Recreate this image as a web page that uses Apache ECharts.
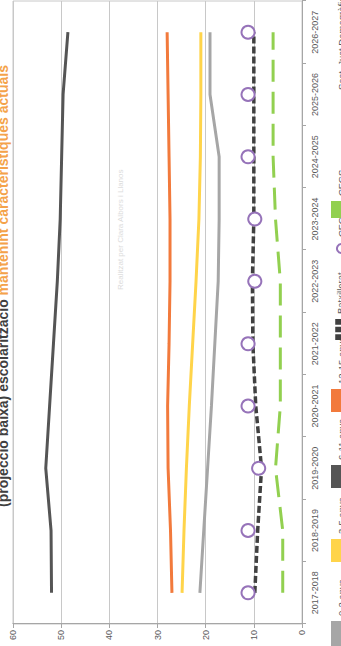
<!DOCTYPE html>
<html><head><meta charset="utf-8">
<script src="https://cdn.jsdelivr.net/npm/echarts@6/dist/echarts.min.js"></script>
<style>
html,body{margin:0;padding:0;width:341px;height:646px;overflow:hidden;background:#fff}
#chart{position:absolute;left:0;top:0;width:646px;height:341px;transform-origin:0 0;transform:translate(0,646px) rotate(-90deg);}
</style></head><body><div id="chart"></div>
<script>
const categories = ['2017-2018','2018-2019','2019-2020','2020-2021','2021-2022','2022-2023','2023-2024','2024-2025','2025-2026','2026-2027'];
const anys0_2   = [21.2, 20.4, 19.6, 18.8, 18.1, 17.4, 17.2, 17.2, 19.1, 19.1];
const anys3_5   = [24.9, 24.5, 24.0, 23.4, 22.7, 22.0, 21.4, 21.1, 21.0, 21.0];
const anys6_11  = [52.0, 52.1, 53.2, 52.4, 51.6, 50.8, 50.2, 49.9, 49.6, 48.6];
const anys12_15 = [27.0, 27.3, 27.8, 27.9, 27.6, 27.4, 27.4, 27.6, 27.8, 28.0];
const batxillerat = [9.8, 9.2, 8.4, 9.6, 10.2, 10.3, 10.0, 10.0, 10.0, 10.0];
const cfgm = [11.2, 11.2, 9.0, 11.2, 11.2, 9.8, 9.8, 11.2, 11.2, 11.2];
const cfgs = [4.0, 4.0, 5.5, 4.5, 4.5, 4.5, 5.5, 6.0, 6.0, 6.0];
const sostDemo = [];
const seriesNames = ['0-2 anys','3-5 anys','6-11 anys','12-15 anys','Batxillerat','CFGM','CFGS','Sost. Just Demogràfica'];
const valueTicks = {min: 0, max: 60, interval: 10};

const FONT = '"Liberation Sans", Arial, sans-serif';
const chart = echarts.init(document.getElementById('chart'), null, {renderer: 'svg', width: 646, height: 341});

function solid(name, data, color) {
  return {name, type: 'line', data, symbol: 'none', smooth: false,
    lineStyle: {color, width: 3}, itemStyle: {color}};
}

// legend layout: left position of each entry's icon, icon shape and icon width
const legendLeft = [0, 84, 158, 234, 306, 392, 428, 528];
const legendTop = [331, 331, 331, 331, 335, 336, 331, 331];
const legendIcon = ['rect','rect','rect','rect','path://M0,0h6v10h-6zM8,0h6v10h-6zM16,0h6v10h-6z','circle','rect','rect'];
const legendIconW = [25, 23, 23, 23, 21, 9, 17, 23];
const legendIconH = [20, 20, 20, 20, 12, 9, 20, 20];
const legends = seriesNames.map((n, i) => ({
  left: legendLeft[i], top: legendTop[i], itemWidth: legendIconW[i], itemHeight: legendIconH[i],
  itemGap: 0, padding: 0,
  textStyle: {fontSize: 9.5, color: '#595959', fontFamily: FONT, padding: i === 5 ? [0,0,0,2] : 0},
  data: [{name: n, icon: legendIcon[i]}]
}));

chart.setOption({
  animation: false,
  textStyle: {fontFamily: FONT},
  grid: {left: 22, right: 1, top: 13, bottom: 39, show: true, borderColor: '#c8c8c8', borderWidth: 1, containLabel: false},
  xAxis: {
    type: 'category', data: categories, boundaryGap: true,
    axisLine: {lineStyle: {color: '#a6a6a6'}},
    axisTick: {show: true, length: 4, lineStyle: {color: '#a6a6a6'}},
    axisLabel: {fontSize: 9, color: '#595959', margin: 8, fontFamily: FONT}
  },
  yAxis: {
    type: 'value', min: valueTicks.min, max: valueTicks.max, interval: valueTicks.interval,
    axisLine: {show: true, lineStyle: {color: '#a6a6a6'}},
    axisTick: {show: true, length: 4, lineStyle: {color: '#a6a6a6'}},
    splitLine: {lineStyle: {color: '#c8c8c8'}},
    axisLabel: {fontSize: 9, color: '#595959', margin: 6, fontFamily: FONT}
  },
  legend: legends,
  graphic: [
    {type: 'text', x: 139, y: 10, silent: true,
     style: {text: '{a|(projecció baixa) escolarització }{b|mantenint característiques actuals}',
       verticalAlign: 'bottom', textVerticalAlign: 'bottom',
       rich: {a: {fill: '#404040', fontSize: 14, fontWeight: 'bold', fontFamily: FONT},
              b: {fill: '#f4a24a', fontSize: 14, fontWeight: 'bold', fontFamily: FONT}}}},
    {type: 'text', x: 356, y: 120, silent: true,
     style: {text: 'Realitzat per Clara Albors i Llanos', fontSize: 8, fill: '#dcdcdc', fontFamily: FONT,
       verticalAlign: 'middle', textVerticalAlign: 'middle'}}
  ],
  series: [
    solid(seriesNames[0], anys0_2, '#a6a6a6'),
    solid(seriesNames[1], anys3_5, '#ffd44a'),
    solid(seriesNames[2], anys6_11, '#555555'),
    solid(seriesNames[3], anys12_15, '#f27a3c'),
    {name: seriesNames[4], type: 'line', data: batxillerat, symbol: 'none',
     lineStyle: {color: '#404040', width: 3.5, type: [7, 3]}, itemStyle: {color: '#404040'}},
    {name: seriesNames[5], type: 'line', data: cfgm, symbol: 'circle', symbolSize: 13, showSymbol: true,
     lineStyle: {width: 0, opacity: 0},
     itemStyle: {color: '#ffffff', borderColor: '#9673b9', borderWidth: 2}},
    {name: seriesNames[6], type: 'line', data: cfgs, symbol: 'none',
     lineStyle: {color: '#92d050', width: 3, type: [22, 10]}, itemStyle: {color: '#92d050'}},
    {name: seriesNames[7], type: 'line', data: sostDemo, symbol: 'none',
     lineStyle: {color: '#ffffff', width: 3}, itemStyle: {color: '#ffffff'}}
  ]
});
</script></body></html>
